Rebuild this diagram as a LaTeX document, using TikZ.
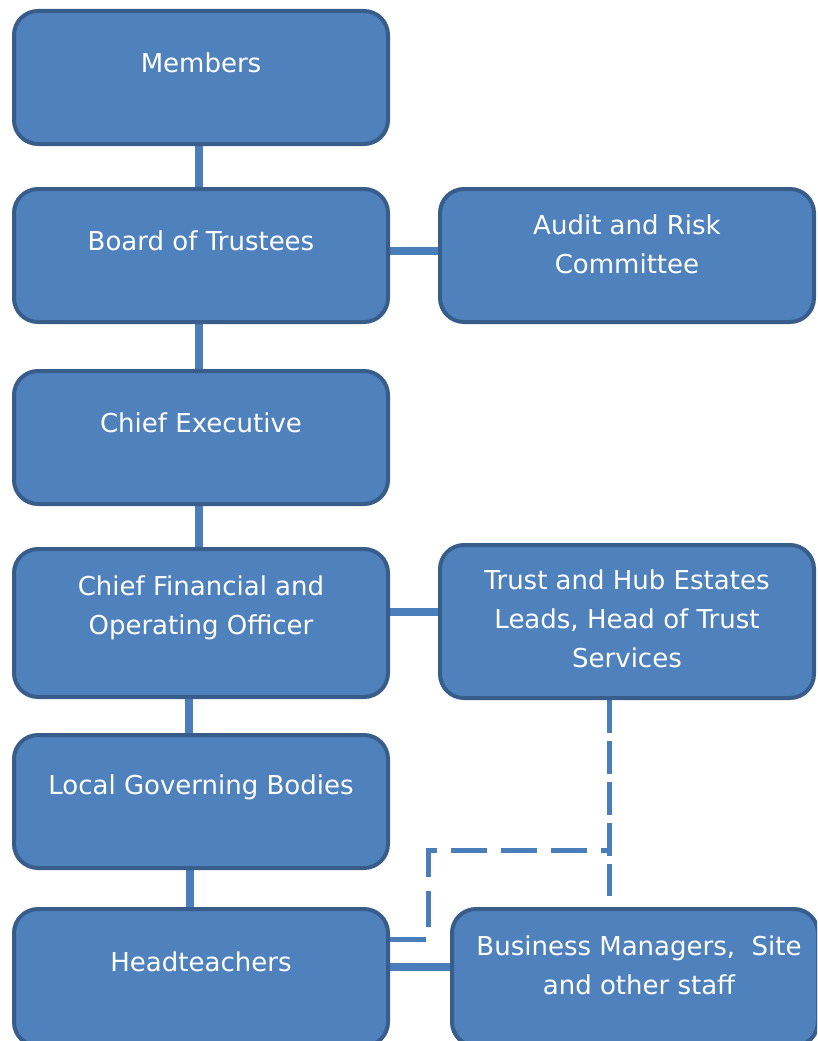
\documentclass[tikz,border=0pt]{standalone}
\usepackage{fontspec}
\setmainfont{DejaVu Sans}
\usetikzlibrary{backgrounds, positioning}
\definecolor{boxfill}{HTML}{4F81BD}
\definecolor{boxline}{HTML}{385D8A}
\definecolor{linkblue}{HTML}{4A7EBB}
\tikzset{
  box/.style={rectangle, draw=boxline, fill=boxfill, line width=4pt, rounded corners=24pt,
    minimum width=374pt, minimum height=133pt, inner sep=0pt},
  boxtext/.style={text=white, align=center, font=\fontsize{26}{39}\selectfont, inner sep=0pt},
  link/.style={draw=linkblue, line width=8pt},
  dashlink/.style={draw=linkblue, line width=5pt, dash pattern=on 36pt off 14pt}
}

\begin{document}
\begin{tikzpicture}[x=1pt, y=-1pt]
      \clip (0,0) rectangle (817,1041);

      % left column
      \node[box] (members) at (201,77.5) {};
      \node[box] (board)   at (201,255.5) {};
      \node[box] (ceo)     at (201,437.5) {};
      \node[box, minimum height=148pt] (cfo) at (201,623) {};
      \node[box] (lgb)     at (201,801.5) {};
      \node[box, minimum height=137pt] (head) at (201,977.5) {};

      % right column
      \node[box] (audit)   at (627,255.5) {};
      \node[box, minimum height=153pt] (trust) at (627,621.5) {};
      \node[box, minimum width=366pt, minimum height=137pt] (staff) at (635,977.5) {};

      \node[boxtext] (members-t) at (201,63)  {Members};
      \node[boxtext] (board-t)   at (201,241) {Board of Trustees};
      \node[boxtext] (ceo-t)     at (201,423) {Chief Executive};
      \node[boxtext] (cfo-t)     at (201,608) {Chief Financial and\\Operating Officer};
      \node[boxtext] (lgb-t)     at (201,787) {Local Governing Bodies};
      \node[boxtext] (head-t)    at (201,962) {Headteachers};
      \node[boxtext] (audit-t)   at (627,244) {Audit and Risk\\Committee};
      \node[boxtext] (trust-t)   at (627,619) {Trust and Hub Estates\\Leads, Head of Trust\\Services};
      \node[boxtext] (staff-t)   at (639,965) {Business Managers,~ Site\\and other staff};

      \coordinate (dtop)  at (609,896);
      \coordinate (dbend) at (609,850);
      \coordinate (dleft) at (428,850);

      \begin{scope}[on background layer]
        \draw[link] ([xshift=-2pt]members.south) -- ([xshift=-2pt]board.north);
        \draw[link] ([xshift=-2pt]board.south) -- ([xshift=-2pt]ceo.north);
        \draw[link] ([xshift=-2pt]ceo.south) -- ([xshift=-2pt]cfo.north);
        \draw[link] ([xshift=-12pt]cfo.south) -- ([xshift=-12pt]lgb.north);
        \draw[link] ([xshift=-11pt]lgb.south) -- ([xshift=-11pt]head.north);
        \draw[link] ([yshift=4.5pt]board.east) -- ([yshift=4.5pt]audit.west);
        \draw[link] ([yshift=11pt]cfo.east) -- ([yshift=11pt]cfo.east -| trust.west);
        \draw[link] ([yshift=10.5pt]head.east) -- ([yshift=10.5pt]head.east -| staff.west);

        % dotted reporting lines
        \draw[dashlink, dash pattern=on 33pt off 8pt] ([xshift=-18pt]trust.south) -- (dtop);
        \draw[dashlink] ([yshift=38.5pt]head.east) -- ([yshift=38.5pt]head.east -| dleft) -- (dleft) -- (dbend);
      \end{scope}
\end{tikzpicture}
\end{document}
